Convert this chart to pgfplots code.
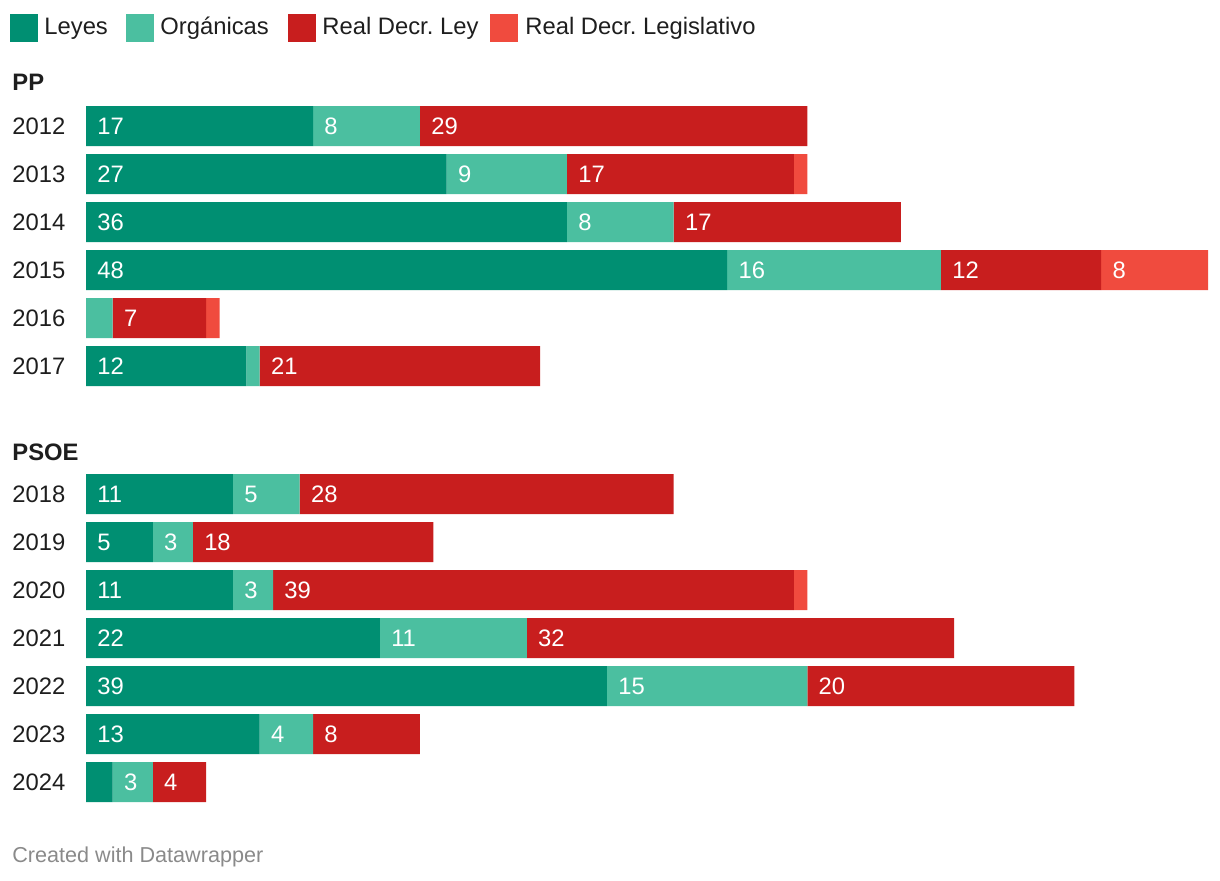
\documentclass[border=0pt]{standalone}
\usepackage{pgfplots}
\pgfplotsset{compat=1.18}
\usepackage{fontspec}
\setmainfont{Liberation Sans}
\frenchspacing
\definecolor{leyes}{HTML}{008F72}
\definecolor{org}{HTML}{4BBFA0}
\definecolor{rdl}{HTML}{C81E1E}
\definecolor{rdleg}{HTML}{F04B3E}
\definecolor{txt}{HTML}{1E1E1E}
\definecolor{foot}{HTML}{8A8A8A}
\newcommand\fs{\fontsize{11.9pt}{14pt}\selectfont}
\pgfplotsset{base/.style={scale only axis, width=610pt, height=440pt,
  xmin=-6.4386, xmax=84.898, ymin=0, ymax=880, y dir=reverse,
  hide axis, at={(0,0)}, anchor=north west}}
\begin{document}
\begin{tikzpicture}
\begin{axis}[base, xbar stacked, bar width=20pt]
\addplot[fill=leyes, draw=none] coordinates {(17,126) (27,174) (36,222) (48,270) (0,318) (12,366) (11,494) (5,542) (11,590) (22,638) (39,686) (13,734) (2,782)};
\addplot[fill=org, draw=none] coordinates {(8,126) (9,174) (8,222) (16,270) (2,318) (1,366) (5,494) (3,542) (3,590) (11,638) (15,686) (4,734) (3,782)};
\addplot[fill=rdl, draw=none] coordinates {(29,126) (17,174) (17,222) (12,270) (7,318) (21,366) (28,494) (18,542) (39,590) (32,638) (20,686) (8,734) (4,782)};
\addplot[fill=rdleg, draw=none] coordinates {(0,126) (1,174) (0,222) (8,270) (1,318) (0,366) (0,494) (0,542) (1,590) (0,638) (0,686) (0,734) (0,782)};
\end{axis}
\begin{axis}[base]
\addplot[draw=none, mark=none, nodes near coords, point meta=explicit symbolic,
  every node near coord/.append style={anchor=west, inner sep=0pt, xshift=5.5pt, font=\fs, text=white}]
  coordinates {
  (0,126)[17] (17,126)[8] (25,126)[29]
  (0,174)[27] (27,174)[9] (36,174)[17]
  (0,222)[36] (36,222)[8] (44,222)[17]
  (0,270)[48] (48,270)[16] (64,270)[12] (76,270)[8]
  (2,318)[7]
  (0,366)[12] (13,366)[21]
  (0,494)[11] (11,494)[5] (16,494)[28]
  (0,542)[5] (5,542)[3] (8,542)[18]
  (0,590)[11] (11,590)[3] (14,590)[39]
  (0,638)[22] (22,638)[11] (33,638)[32]
  (0,686)[39] (39,686)[15] (54,686)[20]
  (0,734)[13] (13,734)[4] (17,734)[8]
  (2,782)[3] (5,782)[4]
  };
\end{axis}
\begin{scope}[x=0.5pt, y=-0.5pt]
\path (0,0) rectangle (1220,880);
% legend
\fill[leyes] (10,14) rectangle (38,42);
\node[anchor=base west, inner sep=0pt, font=\fs, text=txt] at (44,34.5) {Leyes};
\fill[org] (126,14) rectangle (154,42);
\node[anchor=base west, inner sep=0pt, font=\fs, text=txt] at (160,34.5) {Orgánicas};
\fill[rdl] (288,14) rectangle (316,42);
\node[anchor=base west, inner sep=0pt, font=\fs, text=txt] at (322,34.5) {Real Decr. Ley};
\fill[rdleg] (490,14) rectangle (518,42);
\node[anchor=base west, inner sep=0pt, font=\fs, text=txt] at (525,34.5) {Real Decr. Legislativo};
% group headers
\node[anchor=base west, inner sep=0pt, font=\fs\bfseries, text=txt] at (12,90.7) {PP};
\node[anchor=base west, inner sep=0pt, font=\fs\bfseries, text=txt] at (12,460.7) {PSOE};
% years
\foreach \yr/\yy in {2012/126,2013/174,2014/222,2015/270,2016/318,2017/366,2018/494,2019/542,2020/590,2021/638,2022/686,2023/734,2024/782}
  \node[anchor=west, inner sep=0pt, font=\fs, text=txt] at (12,\yy) {\yr};
% footer
\node[anchor=base west, inner sep=0pt, font=\fontsize{10.8pt}{13pt}\selectfont, text=foot] at (12,862) {Created with Datawrapper};
\end{scope}
\end{tikzpicture}
\end{document}
